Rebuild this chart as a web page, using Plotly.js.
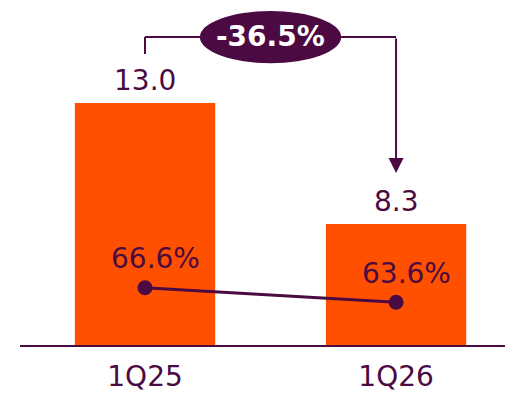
<!DOCTYPE html>
<html>
<head>
<meta charset="utf-8">
<script src="https://cdn.plot.ly/plotly-3.0.1.min.js"></script>
<style>html,body{margin:0;padding:0;background:#fff;}#chart{width:505px;height:393px;}</style>
</head>
<body>
<div id="chart"></div>
<script>
const categories = ["1Q25", "1Q26"];
const barValues = [13.0, 8.3];
const barLabels = ["13.0", "8.3"];
const ratioValues = [66.6, 63.6];
const ratioLabels = ["66.6%", "63.6%"];
const changeLabel = "-36.5%";

const ORANGE = "#FF5000";
const PURPLE = "#4B0A42";
const FONT = "DejaVu Sans";

const xIdx = categories.map((c, i) => i);

const traces = [
  {
    type: "bar",
    x: xIdx,
    y: barValues,
    width: 0.559,
    marker: {color: ORANGE},
    hoverinfo: "skip",
    cliponaxis: true
  },
  {
    type: "scatter",
    mode: "lines+markers",
    x: xIdx,
    y: ratioValues,
    yaxis: "y2",
    line: {color: PURPLE, width: 3},
    marker: {color: PURPLE, size: 15},
    hoverinfo: "skip"
  }
];

const annotations = [];
barLabels.forEach((t, i) => {
  annotations.push({
    x: i, y: barValues[i], xref: "x", yref: "y",
    text: t, showarrow: false, yanchor: "bottom", yshift: 4,
    font: {family: FONT, size: 28, color: PURPLE}
  });
});
ratioLabels.forEach((t, i) => {
  annotations.push({
    x: i, y: ratioValues[i], xref: "x", yref: "y2",
    text: t, showarrow: false, yanchor: "middle", xshift: 10, yshift: 29,
    font: {family: FONT, size: 28, color: PURPLE}
  });
});
// arrow down to second bar
annotations.push({
  x: 1, y: 0.4986, xref: "x", yref: "paper",
  text: "", showarrow: true, ax: 0, ay: -136,
  arrowhead: 2, arrowsize: 1.5, arrowwidth: 2, arrowcolor: PURPLE
});
// change pill label
annotations.push({
  x: 0.5, y: 0.8928, xref: "x", yref: "paper",
  xanchor: "center", yanchor: "middle",
  text: "<b>" + changeLabel + "</b>", showarrow: false,
  font: {family: FONT, size: 28, color: "#ffffff"}
});

const shapes = [
  {type: "line", xref: "x", yref: "paper", x0: 0, x1: 0, y0: 0.8435, y1: 0.8928,
   line: {color: PURPLE, width: 2}},
  {type: "line", xref: "x", yref: "paper", x0: 0, x1: 1, y0: 0.8928, y1: 0.8928,
   line: {color: PURPLE, width: 2}},
  {type: "circle", xref: "x", yref: "paper", x0: 0.2186, x1: 0.7814, y0: 0.817, y1: 0.968,
   fillcolor: PURPLE, line: {color: PURPLE, width: 0}}
];

const layout = {
  width: 505, height: 393,
  margin: {l: 20, r: 0, t: 0, b: 48, pad: 0},
  paper_bgcolor: "#ffffff", plot_bgcolor: "#ffffff",
  showlegend: false,
  xaxis: {
    range: [-0.498, 1.434],
    tickmode: "array", tickvals: xIdx, ticktext: categories,
    showgrid: false, zeroline: false,
    showline: true, linecolor: PURPLE, linewidth: 2,
    ticks: "", ticklabelstandoff: 5,
    tickfont: {family: FONT, size: 28, color: PURPLE}
  },
  yaxis: {range: [3.6, 17.0], visible: false, showgrid: false, zeroline: false},
  yaxis2: {range: [54.83, 125.7], overlaying: "y", visible: false, showgrid: false, zeroline: false},
  annotations: annotations,
  shapes: shapes
};

Plotly.newPlot("chart", traces, layout, {displayModeBar: false, staticPlot: true});
</script>
</body>
</html>
